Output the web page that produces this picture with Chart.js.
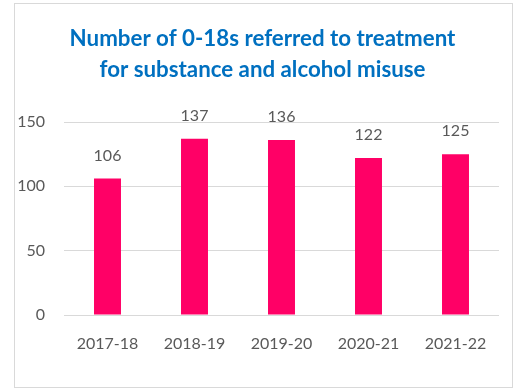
<!DOCTYPE html>
<html>
<head>
<meta charset="utf-8">
<script src="https://cdn.jsdelivr.net/npm/chart.js@4/dist/chart.umd.min.js"></script>
<style>
  html, body { margin: 0; padding: 0; background: #ffffff; }
  #frame { position: absolute; left: 14px; top: 3px; width: 499px; height: 385px; box-sizing: border-box; border: 1px solid #d9d9d9; }
  #wrap { position: absolute; left: 0; top: 0; width: 520px; height: 388px; }
</style>
</head>
<body>
<div id="frame"></div>
<div id="wrap"><canvas id="c" width="520" height="388"></canvas></div>
<script>
const categories = ["2017-18", "2018-19", "2019-20", "2020-21", "2021-22"];
const referrals = [106, 137, 136, 122, 125];
const yTicks = [0, 50, 100, 150];
const titleLines = ["Number of 0-18s referred to treatment", "for substance and alcohol misuse"];

const barLabels = {
  id: 'barLabels',
  afterDatasetsDraw(chart) {
    const ctx = chart.ctx;
    const meta = chart.getDatasetMeta(0);
    ctx.save();
    ctx.font = '16px Lato';
    ctx.fillStyle = '#595959';
    ctx.textAlign = 'center';
    ctx.textBaseline = 'middle';
    meta.data.forEach((bar, i) => {
      ctx.fillText(String(referrals[i]), bar.x, bar.y - 23);
    });
    ctx.restore();
  }
};

const titleCentre = {
  id: 'titleCentre',
  afterLayout(chart) {
    if (chart.titleBlock) {
      chart.titleBlock.left = 26;
      chart.titleBlock.right = 499;
    }
  }
};

new Chart(document.getElementById('c'), {
  type: 'bar',
  data: {
    labels: categories,
    datasets: [{
      data: referrals,
      backgroundColor: '#ff0066',
      borderWidth: 0,
      categoryPercentage: 1.0,
      barPercentage: 0.31
    }]
  },
  options: {
    responsive: false,
    animation: false,
    layout: { padding: { left: 0, right: 21, top: 0, bottom: 0 } },
    plugins: {
      legend: { display: false },
      tooltip: { enabled: false },
      title: {
        display: true,
        text: titleLines,
        color: '#0070c0',
        font: { family: 'Lato', size: 22.3, weight: 'bold', lineHeight: '31px' },
        padding: { top: 23, bottom: 37 }
      }
    },
    scales: {
      x: {
        grid: { display: false, drawTicks: false },
        border: { display: false },
        ticks: { color: '#595959', font: { family: 'Lato', size: 16 }, padding: 19, maxRotation: 0 },
        afterFit(scale) { scale.height = 73; }
      },
      y: {
        min: 0,
        max: 150,
        afterBuildTicks(scale) { scale.ticks = yTicks.map(v => ({ value: v })); },
        grid: { color: '#d9d9d9', lineWidth: 1, drawTicks: false },
        border: { display: false },
        ticks: { color: '#595959', font: { family: 'Lato', size: 16 }, padding: 19 },
        afterFit(scale) { scale.width = 64; }
      }
    }
  },
  plugins: [barLabels, titleCentre]
});
</script>
</body>
</html>
